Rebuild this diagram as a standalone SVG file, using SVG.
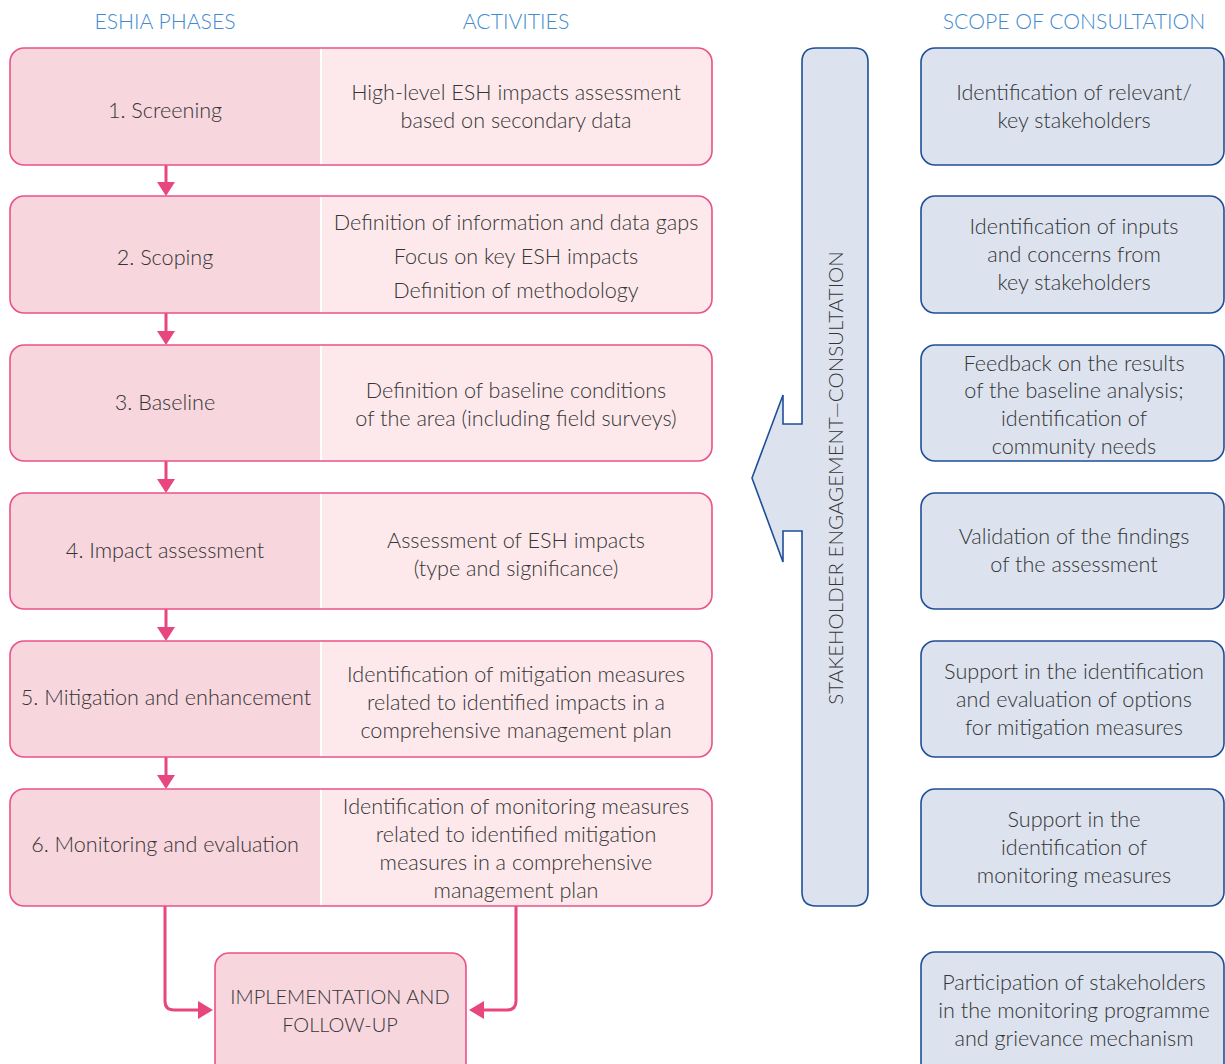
<svg xmlns="http://www.w3.org/2000/svg" width="1225" height="1064" viewBox="0 0 1225 1064">
<defs>
<style>
.t{font-family:Lato,"Open Sans","Liberation Sans",sans-serif;font-size:21.6px;fill:#353535;text-anchor:middle;font-weight:300}
.u{font-family:Lato,"Open Sans","Liberation Sans",sans-serif;font-size:20px;fill:#353535;text-anchor:middle;font-weight:300}
.v{font-family:Lato,"Open Sans","Liberation Sans",sans-serif;font-size:20.5px;fill:#353535;text-anchor:middle;font-weight:300}
.h{font-family:Lato,"Open Sans","Liberation Sans",sans-serif;font-size:21.2px;fill:#428bd0;text-anchor:middle;font-weight:300}
.ph{fill:#f7d6de}
.ac{fill:#fde9ec}
.ob{fill:none;stroke:#ea5288;stroke-width:1.6}
.bl{fill:#dce3ef;stroke:#1f4f97;stroke-width:1.6}
.cn{fill:none;stroke:#e8467f;stroke-width:3}
.ah{fill:#e8467f}
</style>
</defs>
<g id="headers">
<text class="h" x="165" y="29">ESHIA PHASES</text>
<text class="h" x="516" y="29">ACTIVITIES</text>
<text class="h" x="1074" y="29">SCOPE OF CONSULTATION</text>
</g>
<g id="connectors">
<line class="cn" x1="166" y1="165" x2="166" y2="184"/><polygon class="ah" points="157,182 175,182 166,196"/>
<line class="cn" x1="166" y1="313" x2="166" y2="333"/><polygon class="ah" points="157,331 175,331 166,345"/>
<line class="cn" x1="166" y1="461" x2="166" y2="481"/><polygon class="ah" points="157,479 175,479 166,493"/>
<line class="cn" x1="166" y1="609" x2="166" y2="629"/><polygon class="ah" points="157,627 175,627 166,641"/>
<line class="cn" x1="166" y1="757" x2="166" y2="777"/><polygon class="ah" points="157,775 175,775 166,789"/>
<path class="cn" d="M165,906 V1001 Q165,1010 174,1010 H200"/><polygon class="ah" points="198,1001 198,1019 213,1010"/>
<path class="cn" d="M516,906 V1001 Q516,1010 507,1010 H482"/><polygon class="ah" points="484,1001 484,1019 469,1010"/>
</g>
<g id="phase1">
<path class="ph" d="M24,48 H320 V165 H24 Q10,165 10,151 V62 Q10,48 24,48Z"/>
<path class="ac" d="M322,48 H698 Q712,48 712,62 V151 Q712,165 698,165 H322Z"/>
<rect class="ob" x="10" y="48" width="702" height="117" rx="14"/>
<text class="t" x="165" y="118">1. Screening</text>
<text class="t" x="516" y="100">High-level ESH impacts assessment</text>
<text class="t" x="516" y="128">based on secondary data</text>
</g>
<g id="phase2">
<path class="ph" d="M24,196 H320 V313 H24 Q10,313 10,299 V210 Q10,196 24,196Z"/>
<path class="ac" d="M322,196 H698 Q712,196 712,210 V299 Q712,313 698,313 H322Z"/>
<rect class="ob" x="10" y="196" width="702" height="117" rx="14"/>
<text class="t" x="165" y="265">2. Scoping</text>
<text class="t" x="516" y="230">Definition of information and data gaps</text>
<text class="t" x="516" y="264">Focus on key ESH impacts</text>
<text class="t" x="516" y="298">Definition of methodology</text>
</g>
<g id="phase3">
<path class="ph" d="M24,345 H320 V461 H24 Q10,461 10,447 V359 Q10,345 24,345Z"/>
<path class="ac" d="M322,345 H698 Q712,345 712,359 V447 Q712,461 698,461 H322Z"/>
<rect class="ob" x="10" y="345" width="702" height="116" rx="14"/>
<text class="t" x="165" y="410">3. Baseline</text>
<text class="t" x="516" y="398">Definition of baseline conditions</text>
<text class="t" x="516" y="426">of the area (including field surveys)</text>
</g>
<g id="phase4">
<path class="ph" d="M24,493 H320 V609 H24 Q10,609 10,595 V507 Q10,493 24,493Z"/>
<path class="ac" d="M322,493 H698 Q712,493 712,507 V595 Q712,609 698,609 H322Z"/>
<rect class="ob" x="10" y="493" width="702" height="116" rx="14"/>
<text class="t" x="165" y="558">4. Impact assessment</text>
<text class="t" x="516" y="548">Assessment of ESH impacts</text>
<text class="t" x="516" y="576">(type and significance)</text>
</g>
<g id="phase5">
<path class="ph" d="M24,641 H320 V757 H24 Q10,757 10,743 V655 Q10,641 24,641Z"/>
<path class="ac" d="M322,641 H698 Q712,641 712,655 V743 Q712,757 698,757 H322Z"/>
<rect class="ob" x="10" y="641" width="702" height="116" rx="14"/>
<text class="t" x="166" y="705">5. Mitigation and enhancement</text>
<text class="t" x="516" y="682">Identification of mitigation measures</text>
<text class="t" x="516" y="710">related to identified impacts in a</text>
<text class="t" x="516" y="738">comprehensive management plan</text>
</g>
<g id="phase6">
<path class="ph" d="M24,789 H320 V906 H24 Q10,906 10,892 V803 Q10,789 24,789Z"/>
<path class="ac" d="M322,789 H698 Q712,789 712,803 V892 Q712,906 698,906 H322Z"/>
<rect class="ob" x="10" y="789" width="702" height="117" rx="14"/>
<text class="t" x="165" y="852">6. Monitoring and evaluation</text>
<text class="t" x="516" y="814">Identification of monitoring measures</text>
<text class="t" x="516" y="842">related to identified mitigation</text>
<text class="t" x="516" y="870">measures in a comprehensive</text>
<text class="t" x="516" y="898">management plan</text>
</g>
<g id="implementation">
<rect x="215" y="953" width="251" height="130" rx="14" fill="#f7d6de" stroke="#ea5288" stroke-width="1.6"/>
<text class="u" x="340" y="1004">IMPLEMENTATION AND</text>
<text class="u" x="340" y="1032">FOLLOW-UP</text>
</g>
<g id="stakeholder-engagement">
<path class="bl" d="M816,48 H854 Q868,48 868,62 V892 Q868,906 854,906 H816 Q802,906 802,892 V531 H783 V562 L752,478 L783,395 V424 H802 V62 Q802,48 816,48Z"/>
<text class="v" transform="translate(843,478) rotate(-90)">STAKEHOLDER ENGAGEMENT—CONSULTATION</text>
</g>
<g id="scope1">
<rect class="bl" x="921" y="48" width="303" height="117" rx="14"/>
<text class="t" x="1074" y="100">Identification of relevant/</text>
<text class="t" x="1074" y="128">key stakeholders</text>
</g>
<g id="scope2">
<rect class="bl" x="921" y="196" width="303" height="117" rx="14"/>
<text class="t" x="1074" y="234">Identification of inputs</text>
<text class="t" x="1074" y="262">and concerns from</text>
<text class="t" x="1074" y="290">key stakeholders</text>
</g>
<g id="scope3">
<rect class="bl" x="921" y="345" width="303" height="116" rx="14"/>
<text class="t" x="1074" y="371">Feedback on the results</text>
<text class="t" x="1074" y="398">of the baseline analysis;</text>
<text class="t" x="1074" y="426">identification of</text>
<text class="t" x="1074" y="454">community needs</text>
</g>
<g id="scope4">
<rect class="bl" x="921" y="493" width="303" height="116" rx="14"/>
<text class="t" x="1074" y="544">Validation of the findings</text>
<text class="t" x="1074" y="572">of the assessment</text>
</g>
<g id="scope5">
<rect class="bl" x="921" y="641" width="303" height="116" rx="14"/>
<text class="t" x="1074" y="679">Support in the identification</text>
<text class="t" x="1074" y="707">and evaluation of options</text>
<text class="t" x="1074" y="735">for mitigation measures</text>
</g>
<g id="scope6">
<rect class="bl" x="921" y="789" width="303" height="117" rx="14"/>
<text class="t" x="1074" y="827">Support in the</text>
<text class="t" x="1074" y="855">identification of</text>
<text class="t" x="1074" y="883">monitoring measures</text>
</g>
<g id="scope7">
<rect class="bl" x="921" y="952" width="303" height="130" rx="14"/>
<text class="t" x="1074" y="990">Participation of stakeholders</text>
<text class="t" x="1074" y="1018">in the monitoring programme</text>
<text class="t" x="1074" y="1046">and grievance mechanism</text>
</g>
</svg>
